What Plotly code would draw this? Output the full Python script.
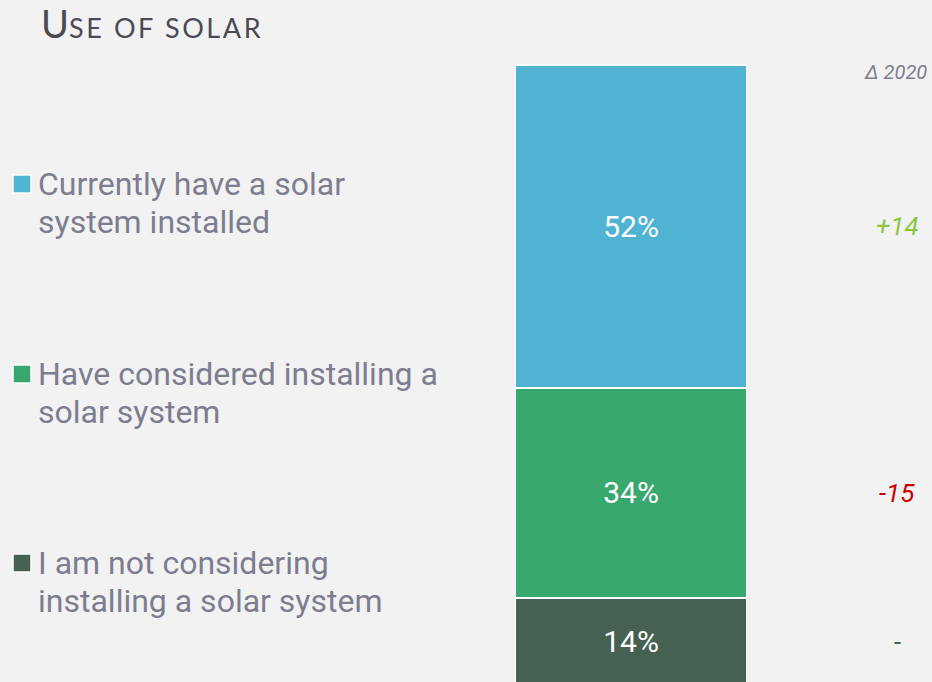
import plotly.graph_objects as go

categories = ["Currently have a solar<br>system installed",
              "Have considered installing a<br>solar system",
              "I am not considering<br>installing a solar system"]
values = [52, 34, 14]
deltas = ["+14", "-15", "-"]
colors = ["#4FB3D1", "#38A86E", "#466052"]
delta_colors = ["#8CC63F", "#CC0000", "#466052"]

W, H = 932, 682
fig = go.Figure()

# stack bottom-up: last category at the bottom
for cat, val, col in reversed(list(zip(categories, values, colors))):
    fig.add_trace(go.Bar(
        x=[0], y=[val], name=cat, marker=dict(color=col, line=dict(color="white", width=2)),
        width=1, texttemplate="%{y}%", textposition="inside", insidetextanchor="middle",
        textangle=0, textfont=dict(family="Roboto", size=30, color="white"),
        constraintext="none", hoverinfo="skip", showlegend=False,
    ))

fig.update_layout(
    barmode="stack", width=W, height=H,
    margin=dict(l=0, r=0, t=0, b=0),
    paper_bgcolor="#F2F2F2", plot_bgcolor="#F2F2F2",
    xaxis=dict(domain=[515 / W, 747 / W], range=[-0.5, 0.5], visible=False, fixedrange=True),
    yaxis=dict(range=[0.5, 110.5], visible=False, fixedrange=True),
)

# delta labels at segment centres
cum = 0
centres = {}
for cat, val in reversed(list(zip(categories, values))):
    centres[cat] = cum + val / 2
    cum += val

for cat, d, dc in zip(categories, deltas, delta_colors):
    fig.add_annotation(x=897 / W, xref="paper", y=centres[cat], yref="y", text=d,
                       showarrow=False, xanchor="center", yanchor="middle",
                       font=dict(family="Roboto", size=26, color=dc, style="italic"))

fig.add_annotation(x=929 / W, xref="paper", y=1 - 72 / H, yref="paper", text="Δ 2020",
                   showarrow=False, xanchor="right", yanchor="middle",
                   font=dict(family="Roboto", size=20, color="#7D7D90", style="italic"))

# legend text and squares
legend_y = [184, 374, 563]
for cat, col, py in zip(categories, colors, legend_y):
    for i, line in enumerate(cat.split("<br>")):
        fig.add_annotation(x=36 / W, xref="paper", y=1 - (py + 38 * i) / H, yref="paper",
                           text=line, showarrow=False, xanchor="left", yanchor="middle",
                           align="left", font=dict(family="Roboto", size=32, color="#7D7D90"))
    fig.add_shape(type="rect", xref="paper", yref="paper",
                  x0=13 / W, x1=31 / W, y0=1 - (py + 9) / H, y1=1 - (py - 9) / H,
                  fillcolor=col, line=dict(color="white", width=1.5))

# title
fig.add_annotation(x=39 / W, xref="paper", y=1 - 23 / H, yref="paper",
                   text="<span style='font-size:38px'>U</span>"
                        "<span style='letter-spacing:2.6px'>SE OF SOLAR</span>",
                   showarrow=False, xanchor="left", yanchor="middle",
                   font=dict(family="Lato", size=27, color="#4A4A55"))

fig.write_html("out.html", config={"displayModeBar": False},
               post_script="document.body.style.margin='0';")
